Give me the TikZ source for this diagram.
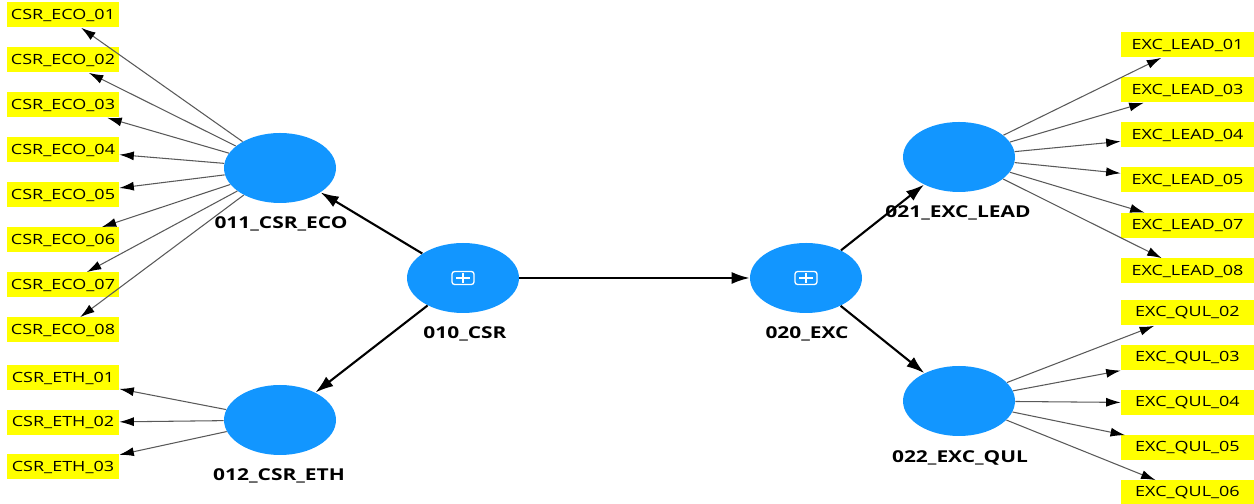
\documentclass[tikz,border=0pt]{standalone}
\usepackage{fontspec}
\setmainfont{Open Sans}[FakeStretch=1.28]
\usetikzlibrary{shapes.geometric,arrows.meta}
\definecolor{lvblue}{RGB}{18,150,255}
\definecolor{indyellow}{RGB}{255,255,0}
\begin{document}
\begin{tikzpicture}
        [lv/.style={ellipse, fill=lvblue, minimum width=2.24cm, minimum height=1.4cm, inner sep=0pt},
        hoc/.style={draw=white, line width=0.75pt, rounded corners=1.5pt, minimum width=0.44cm, minimum height=0.26cm, inner sep=0pt,
            path picture={\draw[white, line width=0.75pt] ([yshift=-0.9pt]path picture bounding box.north) -- ([yshift=0.9pt]path picture bounding box.south)
                ([xshift=2.4pt]path picture bounding box.west) -- ([xshift=-2.4pt]path picture bounding box.east);}},
        ind/.style={fill=indyellow, minimum width=2.24cm, minimum height=0.5cm, inner sep=0pt, font=\fontsize{8}{9}\selectfont},
        indR/.style={ind, minimum width=2.66cm},
        lbl/.style={font=\bfseries\fontsize{9.3}{11}\selectfont},
        struct/.style={line width=1.2pt, -{Latex[length=3.6mm, width=2.4mm]}},
        load/.style={gray!70!black, line width=0.6pt, -{Latex[length=2.9mm, width=1.8mm, color=black]}}]
        \useasboundingbox (0,0) rectangle (25.08,10.08);

        % latent variables
        \node[lv] (CSR) at (9.26,4.52) {};
        \node[lv] (EXC) at (16.12,4.52) {};
        \node[lv] (ECO) at (5.6,6.72) {};
        \node[lv] (ETH) at (5.6,1.68) {};
        \node[lv] (LEAD) at (19.18,6.94) {};
        \node[lv] (QUL) at (19.18,2.06) {};
        \node[hoc] (iCSR) at (CSR) {};
        \node[hoc] (iEXC) at (EXC) {};

        \node[lbl] (lCSR) at (9.3,3.4) {010\_CSR};
        \node[lbl] (lEXC) at (16.14,3.4) {020\_EXC};
        \node[lbl] (lECO) at (5.62,5.6) {011\_CSR\_ECO};
        \node[lbl] (lETH) at (5.58,0.56) {012\_CSR\_ETH};
        \node[lbl] (lLEAD) at (19.16,5.82) {021\_EXC\_LEAD};
        \node[lbl] (lQUL) at (19.2,0.92) {022\_EXC\_QUL};

        % indicators
        \node[ind] (E1) at (1.26,9.78) {CSR\_ECO\_01};
        \node[ind] (E2) at (1.26,8.88) {CSR\_ECO\_02};
        \node[ind] (E3) at (1.26,7.98) {CSR\_ECO\_03};
        \node[ind] (E4) at (1.26,7.08) {CSR\_ECO\_04};
        \node[ind] (E5) at (1.26,6.18) {CSR\_ECO\_05};
        \node[ind] (E6) at (1.26,5.28) {CSR\_ECO\_06};
        \node[ind] (E7) at (1.26,4.38) {CSR\_ECO\_07};
        \node[ind] (E8) at (1.26,3.48) {CSR\_ECO\_08};
        \node[ind] (T1) at (1.26,2.52) {CSR\_ETH\_01};
        \node[ind] (T2) at (1.26,1.63) {CSR\_ETH\_02};
        \node[ind] (T3) at (1.26,0.74) {CSR\_ETH\_03};

        \node[indR] (L1) at (23.75,9.18) {EXC\_LEAD\_01};
        \node[indR] (L3) at (23.75,8.28) {EXC\_LEAD\_03};
        \node[indR] (L4) at (23.75,7.38) {EXC\_LEAD\_04};
        \node[indR] (L5) at (23.75,6.48) {EXC\_LEAD\_05};
        \node[indR] (L7) at (23.75,5.57) {EXC\_LEAD\_07};
        \node[indR] (L8) at (23.75,4.66) {EXC\_LEAD\_08};
        \node[indR] (Q2) at (23.75,3.82) {EXC\_QUL\_02};
        \node[indR] (Q3) at (23.75,2.92) {EXC\_QUL\_03};
        \node[indR] (Q4) at (23.75,2.02) {EXC\_QUL\_04};
        \node[indR] (Q5) at (23.75,1.12) {EXC\_QUL\_05};
        \node[indR] (Q6) at (23.75,0.22) {EXC\_QUL\_06};

        % structural paths
        \draw[struct] (CSR) -- (ECO);
        \draw[struct] (CSR) -- (ETH);
        \draw[struct] (CSR) -- (EXC);
        \draw[struct] (EXC) -- (LEAD);
        \draw[struct] (EXC) -- (QUL);

        % loadings
        \draw[load] (ECO) -- (E1);
        \draw[load] (ECO) -- (E2);
        \draw[load] (ECO) -- (E3);
        \draw[load] (ECO) -- (E4);
        \draw[load] (ECO) -- (E5);
        \draw[load] (ECO) -- (E6);
        \draw[load] (ECO) -- (E7);
        \draw[load] (ECO) -- (E8);
        \draw[load] (ETH) -- (T1);
        \draw[load] (ETH) -- (T2);
        \draw[load] (ETH) -- (T3);

        \draw[load] (LEAD) -- (L1);
        \draw[load] (LEAD) -- (L3);
        \draw[load] (LEAD) -- (L4);
        \draw[load] (LEAD) -- (L5);
        \draw[load] (LEAD) -- (L7);
        \draw[load] (LEAD) -- (L8);
        \draw[load] (QUL) -- (Q2);
        \draw[load] (QUL) -- (Q3);
        \draw[load] (QUL) -- (Q4);
        \draw[load] (QUL) -- (Q5);
        \draw[load] (QUL) -- (Q6);
    \end{tikzpicture}
\end{document}
